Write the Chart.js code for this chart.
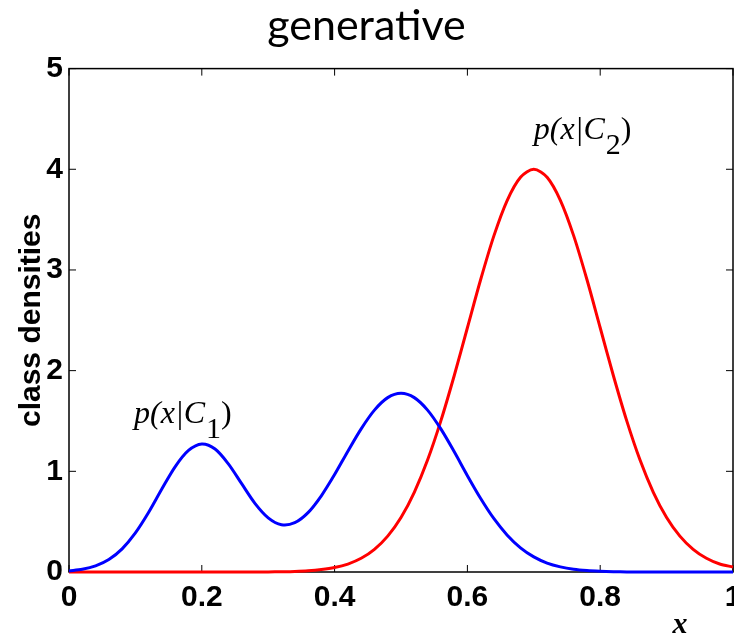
<!DOCTYPE html>
<html>
<head>
<meta charset="utf-8">
<script src="https://cdn.jsdelivr.net/npm/chart.js@4"></script>
<style>
  html, body { margin: 0; padding: 0; background: #fff; }
  #wrap { width: 734px; height: 639px; }
</style>
</head>
<body>
<div id="wrap"><canvas id="densityChart"></canvas></div>
<script>
// values, x step 0.02
const xValues = [0, 0.02, 0.04, 0.06, 0.08, 0.1, 0.12, 0.14, 0.16, 0.18,
  0.2, 0.22, 0.24, 0.26, 0.28, 0.3, 0.32, 0.34, 0.36, 0.38,
  0.4, 0.42, 0.44, 0.46, 0.48, 0.5, 0.52, 0.54, 0.56, 0.58,
  0.6, 0.62, 0.64, 0.66, 0.68, 0.7, 0.72, 0.74, 0.76, 0.78,
  0.8, 0.82, 0.84, 0.86, 0.88, 0.9, 0.92, 0.94, 0.96, 0.98, 1];

// p(x|C1) - blue
const classOne = [0.011, 0.027, 0.061, 0.124, 0.23, 0.388, 0.593, 0.826, 1.047, 1.207,
  1.272, 1.221, 1.074, 0.877, 0.682, 0.538, 0.47, 0.49, 0.59, 0.757,
  0.968, 1.2, 1.422, 1.608, 1.732, 1.775, 1.732, 1.608, 1.421, 1.196,
  0.957, 0.73, 0.529, 0.366, 0.24, 0.15, 0.089, 0.051, 0.027, 0.014,
  0.007, 0.003, 0.001, 0, 0, 0, 0, 0, 0, 0, 0];

// p(x|C2) - red
const classTwo = [0, 0, 0, 0, 0, 0, 0, 0, 0, 0,
  0, 0, 0, 0, 0, 0.001, 0.003, 0.006, 0.012, 0.024,
  0.044, 0.079, 0.136, 0.225, 0.356, 0.541, 0.792, 1.112, 1.501, 1.947,
  2.426, 2.905, 3.341, 3.692, 3.921, 4.0, 3.921, 3.692, 3.341, 2.905,
  2.426, 1.947, 1.501, 1.112, 0.792, 0.541, 0.356, 0.225, 0.136, 0.079, 0.05];

const xTicks = [0, 0.2, 0.4, 0.6, 0.8, 1];
const yTicks = [0, 1, 2, 3, 4, 5];

const serif = '"Liberation Serif", "DejaVu Serif", serif';
const sans = '"Liberation Sans", Arial, sans-serif';

function pts(ys) {
    return xValues.map((x, i) => ({ x: x, y: ys[i] }));
}

// matlab style box with inward ticks + the TeX labels
const boxPlugin = {
    id: 'box',
    beforeDatasetsDraw(chart) {
        const { ctx, chartArea: a, scales } = chart;
        ctx.save();
        ctx.strokeStyle = '#000';
        ctx.lineWidth = 1.5;
        ctx.strokeRect(a.left, a.top, a.right - a.left, a.bottom - a.top);
        ctx.lineWidth = 1;
        ctx.beginPath();
        xTicks.forEach(t => {
            const px = scales.x.getPixelForValue(t);
            ctx.moveTo(px, a.bottom); ctx.lineTo(px, a.bottom - 7);
            ctx.moveTo(px, a.top); ctx.lineTo(px, a.top + 7);
        });
        yTicks.forEach(t => {
            const py = scales.y.getPixelForValue(t);
            ctx.moveTo(a.left, py); ctx.lineTo(a.left + 7, py);
            ctx.moveTo(a.right, py); ctx.lineTo(a.right - 7, py);
        });
        ctx.stroke();
        ctx.restore();
    },
    afterDraw(chart) {
        const { ctx, scales } = chart;
        ctx.save();
        ctx.fillStyle = '#000';
        ctx.textBaseline = 'alphabetic';
        const label = (text, sub, x, y) => {
            ctx.font = 'italic 32px ' + serif;
            ctx.fillText(text, x, y);
            let w = ctx.measureText(text).width;
            ctx.font = '30px ' + serif;
            ctx.fillText(sub, x + w + 1, y + 15);
            w += ctx.measureText(sub).width + 1;
            ctx.font = '32px ' + serif;
            ctx.fillText(')', x + w, y);
        };
        label('p(x|C', '1', scales.x.getPixelForValue(0.098), scales.y.getPixelForValue(1.48));
        label('p(x|C', '2', scales.x.getPixelForValue(0.7), scales.y.getPixelForValue(4.3));
        ctx.font = 'italic bold 30px ' + serif;
        ctx.textAlign = 'center';
        ctx.fillText('x', scales.x.getPixelForValue(0.92), 633);
        ctx.restore();
    }
};

const ctx = document.getElementById('densityChart').getContext('2d');
new Chart(ctx, {
    type: 'line',
    data: {
        datasets: [
            {
                label: 'p(x|C1)',
                data: pts(classOne),
                borderColor: '#0000ff',
                borderWidth: 3,
                pointRadius: 0,
                tension: 0.3,
                fill: false,
                clip: 4
            },
            {
                label: 'p(x|C2)',
                data: pts(classTwo),
                borderColor: '#ff0000',
                borderWidth: 3,
                pointRadius: 0,
                tension: 0.3,
                fill: false,
                clip: 4
            }
        ]
    },
    options: {
        responsive: true,
        maintainAspectRatio: false,
        animation: false,
        layout: { padding: { left: 0, right: 1, top: 0, bottom: 0 } },
        plugins: {
            legend: { display: false },
            tooltip: { enabled: false },
            title: {
                display: true,
                text: 'generative',
                color: '#000',
                font: { family: 'Lato, "Open Sans", sans-serif', size: 43, weight: 'normal' },
                padding: { top: 0, bottom: 17 }
            }
        },
        scales: {
            x: {
                type: 'linear',
                min: 0,
                max: 1,
                grid: { display: false, drawTicks: false },
                border: { display: false },
                afterBuildTicks: s => { s.ticks = xTicks.map(v => ({ value: v })); },
                ticks: {
                    color: '#000',
                    font: { family: sans, size: 30, weight: 'bold' },
                    padding: 8,
                    maxRotation: 0,
                    callback: v => String(v)
                },
                afterFit: s => { s.height = 67; s.paddingLeft = 0; s.paddingRight = 0; }
            },
            y: {
                min: 0,
                max: 5,
                grid: { display: false, drawTicks: false },
                border: { display: false },
                afterBuildTicks: s => { s.ticks = yTicks.map(v => ({ value: v })); },
                ticks: {
                    color: '#000',
                    font: { family: sans, size: 30, weight: 'bold' },
                    padding: 6
                },
                title: {
                    display: true,
                    text: 'class densities',
                    color: '#000',
                    font: { family: sans, size: 30, weight: 'bold' },
                    padding: { top: 14, bottom: 0 }
                },
                afterFit: s => { s.width = 69; s.paddingTop = 0; s.paddingBottom = 0; }
            }
        }
    },
    plugins: [boxPlugin]
});
</script>
</body>
</html>
